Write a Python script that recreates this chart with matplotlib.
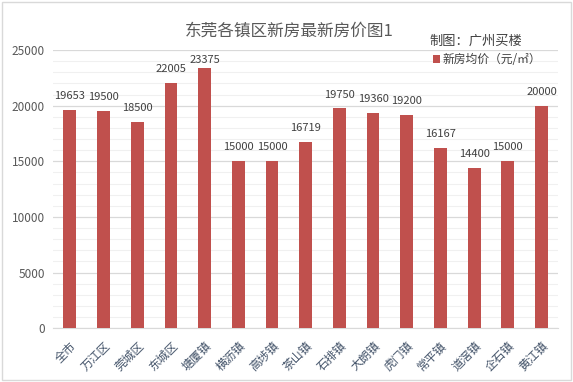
import numpy as np
import matplotlib
matplotlib.use('Agg')
from matplotlib import pyplot as plt
from matplotlib.patches import Rectangle

plt.rcParams['font.family'] = ['Noto Sans CJK SC', 'DejaVu Sans']

# 数据
towns = ['全市', '万江区', '莞城区', '东城区', '塘厦镇', '横沥镇', '高埗镇', '茶山镇',
         '石排镇', '大朗镇', '虎门镇', '常平镇', '道滘镇', '企石镇', '黄江镇']
prices = [19653, 19500, 18500, 22005, 23375, 15000, 15000, 16719,
          19750, 19360, 19200, 16167, 14400, 15000, 20000]
y_ticks = [0, 5000, 10000, 15000, 20000, 25000]

bar_color = '#c0504d'
text_color = '#404040'

fig = plt.figure(figsize=(5.73, 3.82), dpi=100)
fig.patches.append(Rectangle((0.004, 0.005), 0.992, 0.99, transform=fig.transFigure,
                             fill=False, edgecolor='#d9d9d9', linewidth=1))

ax = fig.add_axes([0.0925, 0.141, 0.882, 0.728])
x = np.arange(len(towns))
ax.bar(x, prices, width=0.38, color=bar_color, zorder=3)

ax.set_xlim(-0.5, len(towns) - 0.5)
ax.set_ylim(0, 25000)
ax.set_yticks(y_ticks)
ax.set_yticklabels([str(v) for v in y_ticks], fontsize=8.5, color='#595959')
ax.set_yticks(np.arange(0, 25001, 1000), minor=True)
ax.grid(axis='y', which='major', color='#d9d9d9', linewidth=0.9, zorder=0)
ax.grid(axis='y', which='minor', color='#f0f0f0', linewidth=0.8, zorder=0)
ax.tick_params(axis='y', which='both', length=0, pad=6)

ax.set_xticks(x)
ax.set_xticklabels(towns, rotation=45, ha='right', va='top', rotation_mode='anchor',
                   fontsize=8.5, color='#44546a')
ax.tick_params(axis='x', length=0, pad=8)

for s in ['top', 'right', 'left']:
    ax.spines[s].set_visible(False)
ax.spines['bottom'].set_color('#d9d9d9')

# 数值标签（最高一根标签被压低，留在绘图区内）
for xi, v in zip(x, prices):
    off = 300 if v == max(prices) else 800
    ax.text(xi, v + off, str(v), ha='center', va='bottom', fontsize=8, color=text_color)

fig.text(0.505, 0.918, '东莞各镇区新房最新房价图1', ha='center', va='center',
         fontsize=12, color='#595959')
fig.text(0.83, 0.893, '制图：广州买楼', ha='center', va='center', fontsize=9.5, color='#404040')

fig.patches.append(Rectangle((0.756, 0.835), 0.0125, 0.02, transform=fig.transFigure,
                             facecolor=bar_color, edgecolor='none'))
fig.text(0.773, 0.845, '新房均价（元/㎡）', ha='left', va='center', fontsize=8.5, color=text_color)

plt.savefig('out.png', dpi=100)
